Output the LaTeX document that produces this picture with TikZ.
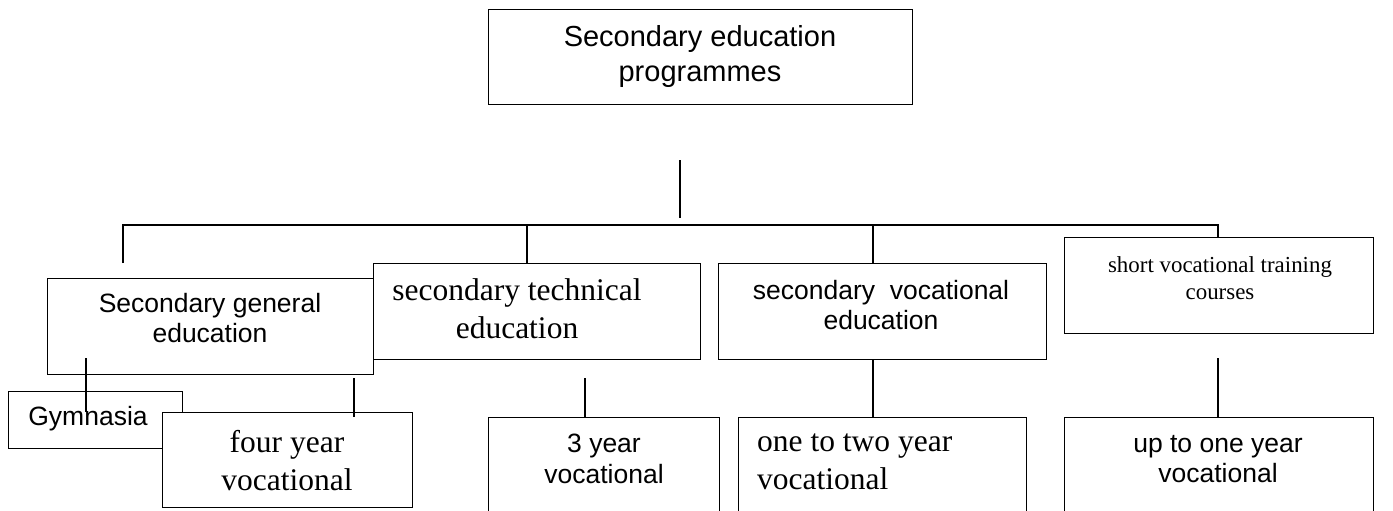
\documentclass[tikz,border=0pt]{standalone}
\usepackage{fontspec}
\setmainfont{Liberation Serif}
\newfontfamily\arialf{Liberation Sans}
\newfontfamily\tnrf{Liberation Serif}
\begin{document}
\begin{tikzpicture}[x=1pt,y=-1pt,
  box/.style={draw, line width=1.3pt, fill=white, inner sep=0pt, anchor=north west},
  conn/.style={line width=1.3pt},
  sanstxt/.style={font=\arialf\fontsize{26.5}{30.5}\selectfont, align=center, inner sep=0pt},
  toptxt/.style={font=\arialf\fontsize{29}{35}\selectfont, align=center, inner sep=0pt},
  serftxt/.style={font=\tnrf\fontsize{31.5}{38}\selectfont, align=center, inner sep=0pt},
  smalltxt/.style={font=\tnrf\fontsize{22.9}{27.5}\selectfont, align=center, inner sep=0pt}]
\useasboundingbox (0,0) rectangle (1393,511);
\clip (0,0) rectangle (1393,511);
% boxes
\node[box, minimum width=424pt, minimum height=95pt] (top) at (488,9) {};
\node[box, minimum width=326pt, minimum height=96pt] (gen) at (47,278) {};
\node[box, minimum width=327pt, minimum height=96pt] (tech) at (373,263) {};
\node[box, minimum width=328pt, minimum height=96pt] (voc) at (718,263) {};
\node[box, minimum width=309pt, minimum height=96pt] (short) at (1064,237) {};
\node[box, minimum width=174pt, minimum height=57pt] (gym) at (8,391) {};
\node[box, minimum width=250pt, minimum height=95pt] (four) at (162,412) {};
\node[box, minimum width=231pt, minimum height=110pt] (three) at (488,417) {};
\node[box, minimum width=288pt, minimum height=110pt] (onetwo) at (738,417) {};
\node[box, minimum width=309pt, minimum height=110pt] (upto) at (1064,417) {};
% texts
\node[toptxt] (ttop) at (700,57) {Secondary education\\programmes};
\node[sanstxt] (tgen) at (210,318) {Secondary general\\education};
\node[serftxt] (ttech) at (517,309) {secondary technical\\education};
\node[sanstxt] (tvoc) at (881,305) {secondary\ \ vocational\\education};
\node[smalltxt] (tshort) at (1220,278) {short vocational training\\courses};
\node[sanstxt] (tgym) at (88,419) {Gymnasia};
\node[serftxt] (tfour) at (287,461) {four year\\vocational};
\node[sanstxt] (tthree) at (604,459) {3 year\\vocational};
\node[serftxt, align=left, anchor=west] (tonetwo) at (757,462) {one to two year\\vocational};
\node[sanstxt] (tupto) at (1218,459) {up to one year\\vocational};
% connector points
\coordinate (s1) at (680,160);
\coordinate (s2) at (680,218);
\coordinate (hl) at (123,225);
\coordinate (hr) at (1218,225);
\coordinate (dgen) at (123,263);
\coordinate (jt) at (527,225);
\coordinate (jv) at (873,225);
\coordinate (g1) at (86,358);
\coordinate (g2) at (86,412);
\coordinate (f1) at (354,378);
\coordinate (f2) at (354,417);
\coordinate (t1) at (585,378);
\coordinate (u1) at (1218,358);
% connectors
\draw[conn] (s1) -- (s2);
\draw[conn] (dgen) -- (hl) -- (hr) -- (hr |- short.north);
\draw[conn] (jt) -- (jt |- tech.north);
\draw[conn] (jv) -- (jv |- voc.north);
\draw[conn] (g1) -- (g2);
\draw[conn] (f1) -- (f2);
\draw[conn] (t1) -- (t1 |- three.north);
\draw[conn] (jv |- voc.south) -- (jv |- onetwo.north);
\draw[conn] (u1) -- (u1 |- upto.north);
\end{tikzpicture}
\end{document}
